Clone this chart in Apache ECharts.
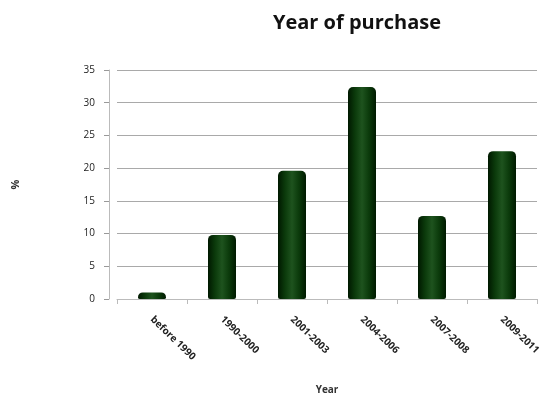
<!DOCTYPE html>
<html>
<head>
<meta charset="utf-8">
<script src="https://cdn.jsdelivr.net/npm/echarts@6/dist/echarts.min.js"></script>
<style>
html,body{margin:0;padding:0;background:#fff;}
#chart{width:549px;height:400px;}
</style>
</head>
<body>
<div id="chart"></div>
<script>
// Year of purchase, share of respondents (%)
const categories = ['before 1990', '1990-2000', '2001-2003', '2004-2006', '2007-2008', '2009-2011'];
const percentValues = [1, 9.8, 19.6, 32.4, 12.7, 22.6];
const yTicks = { min: 0, max: 35, interval: 5 };

const chart = echarts.init(document.getElementById('chart'));
const font = '"Open Sans", "Liberation Sans", sans-serif';

chart.setOption({
  animation: false,
  title: {
    text: 'Year of purchase',
    left: 352,
    top: 8,
    textAlign: 'center',
    textStyle: { fontFamily: font, fontSize: 20, fontWeight: 'bold', color: '#111' }
  },
  grid: { left: 117, right: 12, top: 70, bottom: 97 },
  xAxis: {
    type: 'category',
    data: categories,
    name: 'Year',
    nameLocation: 'middle',
    nameGap: 86,
    nameTextStyle: { fontFamily: font, fontSize: 10, fontWeight: 'bold', color: '#333' },
    axisLine: { lineStyle: { color: '#bbb', width: 1 } },
    axisTick: { show: true, length: 5, lineStyle: { color: '#bbb' } },
    axisLabel: {
      rotate: -44,
      margin: 19,
      fontFamily: font,
      fontSize: 10,
      fontWeight: 'bold',
      color: '#222'
    }
  },
  yAxis: {
    type: 'value',
    min: yTicks.min,
    max: yTicks.max,
    interval: yTicks.interval,
    offset: 8,
    name: '%',
    nameLocation: 'middle',
    nameGap: 88,
    nameRotate: 90,
    nameTextStyle: { fontFamily: font, fontSize: 11, fontWeight: 'bold', color: '#333' },
    axisLine: { show: true, lineStyle: { color: '#bbb' } },
    axisTick: { show: true, length: 5, lineStyle: { color: '#999' } },
    axisLabel: { fontFamily: font, fontSize: 10, color: '#222', margin: 14 },
    splitLine: { lineStyle: { color: '#a9a9a9', width: 1 } }
  },
  series: [{
    type: 'bar',
    data: percentValues,
    barWidth: 28,
    itemStyle: {
      borderRadius: [5, 5, 2, 2],
      color: new echarts.graphic.LinearGradient(0, 0, 1, 0, [
        { offset: 0, color: '#001800' },
        { offset: 0.25, color: '#0b3a0b' },
        { offset: 0.5, color: '#1e531e' },
        { offset: 0.75, color: '#0b3a0b' },
        { offset: 1, color: '#001a00' }
      ])
    }
  }]
});
</script>
</body>
</html>
